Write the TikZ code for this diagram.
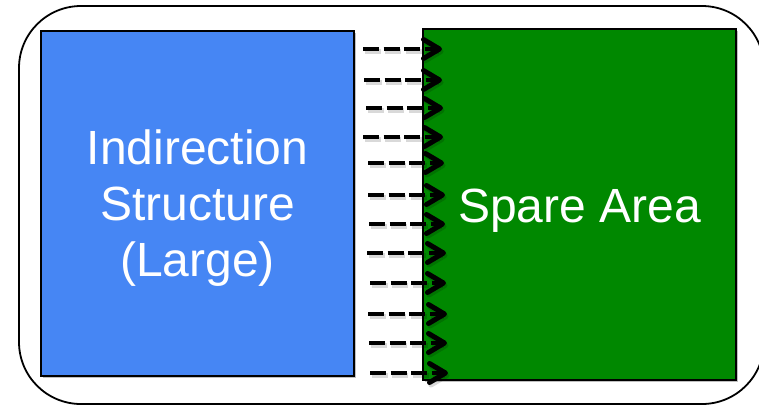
\documentclass[tikz,border=0pt]{standalone}
\usepackage{fontspec}
\setmainfont{Liberation Sans}
\usetikzlibrary{arrows.meta}
\definecolor{boxblue}{RGB}{70,134,244}
\definecolor{boxgreen}{RGB}{0,136,0}
\tikzset{
  panel/.style={draw=black, line width=1.6pt, inner sep=0pt, outer sep=0pt},
  paneltext/.style={text=white, font=\fontsize{48}{56}\selectfont, align=center},
  dasharrow/.style={line width=4.8pt, dash pattern=on 16pt off 4.5pt,
    -{Straight Barb[length=16pt,width=19pt,line width=5pt,round]}},
  dashshadow/.style={dasharrow, draw=black, opacity=0.15},
}
\begin{document}
\begin{tikzpicture}[x=1pt,y=-1pt]
\useasboundingbox (0,0) rectangle (759,408);
\begin{scope}
\clip (0,0) rectangle (759,408);
\draw[line width=1.8pt, rounded corners=62pt] (19,6) rectangle (764,404);
\end{scope}
% shadows of boxes
\fill[black, opacity=0.25] (43,33) rectangle (356,378);
\fill[black, opacity=0.25] (425,31) rectangle (738,382);
\node[panel, fill=boxblue, minimum width=313pt, minimum height=345pt, anchor=north west] (ind) at (41,31) {};
\node[panel, fill=boxgreen, minimum width=313pt, minimum height=351pt, anchor=north west] (spare) at (423,29) {};
\node[paneltext] (indtext) at ([yshift=-5pt]ind.center) {Indirection\\Structure\\(Large)};
\node[paneltext] (sparetext) at ([yshift=-6pt]spare.center) {Spare Area};
\foreach \i/\y/\s/\e in {1/49/363/442, 2/80/364/442, 3/108/366/443, 4/137/363/443,
  5/163/368/444, 6/195/368/445, 7/224/369/445, 8/253/367/446,
  9/283/370/446, 10/314/368/447, 11/343/369/447, 12/373/370/448}{
  \coordinate (s\i) at (\s,\y);
  \coordinate (e\i) at (\e,\y);
  \draw[dashshadow] ([shift={(1.5,2.5)}]s\i) -- ([shift={(1.5,2.5)}]e\i);
  \draw[dasharrow] (s\i) -- (e\i);
}
\end{tikzpicture}
\end{document}
